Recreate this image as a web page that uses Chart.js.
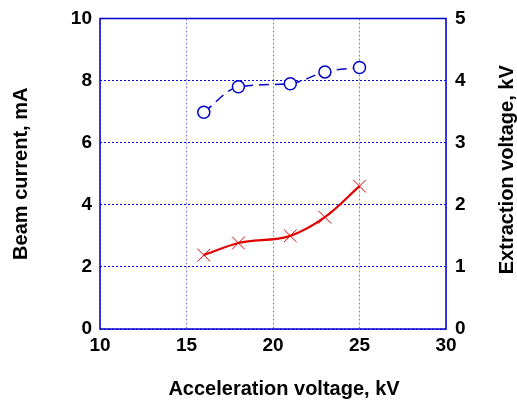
<!DOCTYPE html>
<html>
<head>
<meta charset="utf-8">
<script src="https://cdn.jsdelivr.net/npm/chart.js@4"></script>
<style>
  body { margin: 0; background: #fff; }
</style>
</head>
<body>
<canvas id="myChart" width="517" height="400"></canvas>
<script>
// acceleration voltage, kV
const accel = [16, 18, 21, 23, 25];
// beam current, mA (left axis)
const beamCurrent = [2.38, 2.77, 3.0, 3.6, 4.6];
// extraction voltage, kV (right axis)
const extraction = [3.49, 3.9, 3.95, 4.14, 4.21];

const xTicks = [10, 15, 20, 25, 30];
const leftTicks = [0, 2, 4, 6, 8, 10];
const rightTicks = [0, 1, 2, 3, 4, 5];

const blue = '#0000cc';
const red = '#e00000';
const font = { family: 'Liberation Sans, Arial, sans-serif', size: 19, weight: 'bold', lineHeight: 1 };
const titleFont = { family: 'Liberation Sans, Arial, sans-serif', size: 20, weight: 'bold' };

// solid box round the plot, x title and right axis title (reads bottom to top)
const frame = {
    id: 'frame',
    afterDatasetsDraw(chart) {
        const a = chart.chartArea;
        const ctx = chart.ctx;
        ctx.save();
        ctx.strokeStyle = blue;
        ctx.lineWidth = 1.5;
        ctx.strokeRect(a.left, a.top, a.right - a.left, a.bottom - a.top);
        ctx.fillStyle = '#000';
        ctx.font = 'bold 20px "Liberation Sans", Arial, sans-serif';
        ctx.textAlign = 'center';
        ctx.textBaseline = 'middle';
        ctx.fillText('Acceleration voltage, kV', 284, 389);
        ctx.translate(507, (a.top + a.bottom) / 2 - 4);
        ctx.rotate(-Math.PI / 2);
        ctx.fillText('Extraction voltage, kV', 0, 0);
        ctx.restore();
    }
};

new Chart(document.getElementById('myChart'), {
    type: 'line',
    data: {
        datasets: [{
            label: 'Beam current',
            data: accel.map((x, i) => ({ x: x, y: beamCurrent[i] })),
            yAxisID: 'y',
            borderColor: red,
            borderWidth: 2.2,
            tension: 0.4,
            cubicInterpolationMode: 'monotone',
            pointStyle: 'crossRot',
            pointRadius: 9,
            pointBorderWidth: 1,
            pointBorderColor: red
        }, {
            label: 'Extraction voltage',
            data: accel.map((x, i) => ({ x: x, y: extraction[i] })),
            yAxisID: 'y1',
            borderColor: blue,
            borderWidth: 1.5,
            borderDash: [10, 6],
            tension: 0.4,
            cubicInterpolationMode: 'monotone',
            pointStyle: 'circle',
            pointRadius: 6,
            pointBorderWidth: 1.5,
            pointBorderColor: blue,
            pointBackgroundColor: '#fff'
        }]
    },
    options: {
        responsive: false,
        animation: false,
        layout: { padding: { top: 18 } },
        plugins: { legend: { display: false }, tooltip: { enabled: false } },
        scales: {
            x: {
                type: 'linear',
                min: 10, max: 30,
                afterBuildTicks: s => { s.ticks = xTicks.map(v => ({ value: v })); },
                afterFit: s => { s.height = 71; },
                grid: { color: 'rgba(40,40,230,0.6)', lineWidth: 1, drawTicks: false },
                border: { display: false, dash: [2, 2] },
                ticks: { color: '#000', font: font, padding: 7, maxRotation: 0 },
                title: { display: false }
            },
            y: {
                position: 'left',
                min: 0, max: 10,
                afterBuildTicks: s => { s.ticks = leftTicks.map(v => ({ value: v })); },
                afterFit: s => { s.width = 100; },
                grid: { color: '#0000ee', lineWidth: 1, drawTicks: false },
                border: { display: false, dash: [2, 2] },
                ticks: { color: '#000', font: font, padding: 8 },
                title: { display: true, text: 'Beam current, mA', color: '#000', font: titleFont, padding: { top: 9, bottom: 0 } }
            },
            y1: {
                position: 'right',
                min: 0, max: 5,
                afterBuildTicks: s => { s.ticks = rightTicks.map(v => ({ value: v })); },
                afterFit: s => { s.width = 71; },
                grid: { display: false, drawTicks: false },
                border: { display: false },
                ticks: { color: '#000', font: font, padding: 9 },
                title: { display: false }
            }
        }
    },
    plugins: [frame]
});
</script>
</body>
</html>
